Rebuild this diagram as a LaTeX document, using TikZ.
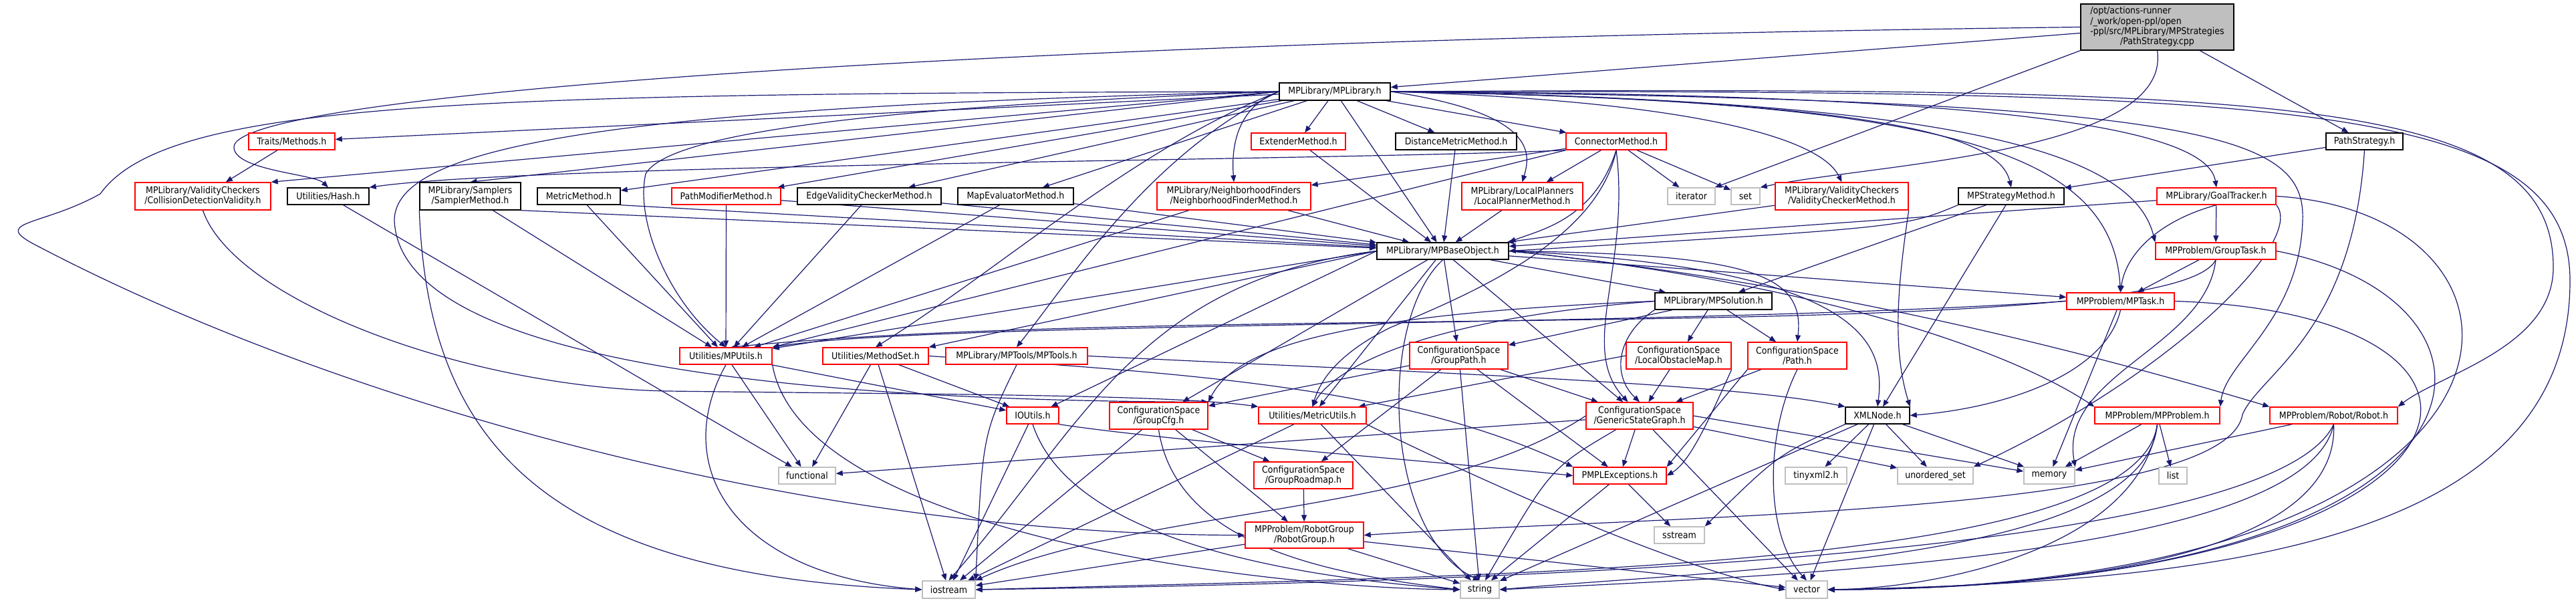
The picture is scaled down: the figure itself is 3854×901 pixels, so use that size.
\documentclass[tikz,border=0pt]{standalone}
\usepackage{fontspec}
\newfontfamily\dfont{DejaVu Sans Condensed}
\usetikzlibrary{arrows.meta}
\definecolor{edgecol}{HTML}{191970}
\definecolor{sysgray}{HTML}{BFBFBF}
\pgfdeclarelayer{edgelayer}
\pgfsetlayers{edgelayer,main}
\tikzset{
  nd/.style={draw, fill=white, line width=0.7pt, inner sep=0pt, align=center, text=black,
    font=\dfont\fontsize{7pt}{7.5pt}\selectfont},
  rednd/.style={nd, draw=red},
  blknd/.style={nd, draw=black},
  sysnd/.style={nd, draw=sysgray},
  rootnd/.style={nd, draw=black, fill=sysgray},
  edge/.style={draw=edgecol, line width=0.6pt, -{Triangle[length=5pt,width=4pt]}}
}
\newcommand\mknode[7]{\node[#1, minimum width=#5*0.5pt, minimum height=#6*0.5pt] (#2) at (#3,#4) {#7};}
\begin{document}
\begin{tikzpicture}[x=0.5pt,y=-0.5pt]
\useasboundingbox (0,0) rectangle (3854,901);
% ---------- nodes ----------
\mknode{rootnd}{root}{3227.5}{40.5}{229}{69}{\begin{tabular}{@{}l@{}}/opt/actions-runner\\/\_work/open-ppl/open\\-ppl/src/MPLibrary/MPStrategies\\\multicolumn{1}{@{}c@{}}{/PathStrategy.cpp}\end{tabular}}
\mknode{blknd}{mplib}{1997}{137}{166}{26}{MPLibrary/MPLibrary.h}
\mknode{rednd}{traits}{436.5}{211.5}{129}{25}{Traits/Methods.h}
\mknode{rednd}{extender}{1942.5}{211.5}{141}{25}{ExtenderMethod.h}
\mknode{blknd}{distmetric}{2178.5}{211.5}{181}{25}{DistanceMetricMethod.h}
\mknode{rednd}{connector}{2418}{211.5}{150}{25}{ConnectorMethod.h}
\mknode{blknd}{pathstrat}{3537.5}{211.5}{115}{25}{PathStrategy.h}
\mknode{rednd}{cdv}{303.5}{293.5}{203}{41}{MPLibrary/ValidityCheckers\\/CollisionDetectionValidity.h}
\mknode{blknd}{hash}{491}{293.5}{122}{25}{Utilities/Hash.h}
\mknode{blknd}{sampler}{703.5}{293.5}{151}{41}{MPLibrary/Samplers\\/SamplerMethod.h}
\mknode{blknd}{metric}{866}{293.5}{124}{25}{MetricMethod.h}
\mknode{rednd}{pathmod}{1086.5}{293.5}{163}{25}{PathModifierMethod.h}
\mknode{blknd}{edgevc}{1300.5}{293.5}{215}{25}{EdgeValidityCheckerMethod.h}
\mknode{blknd}{mapeval}{1519.5}{293.5}{173}{25}{MapEvaluatorMethod.h}
\mknode{rednd}{nf}{1846}{293.5}{230}{41}{MPLibrary/NeighborhoodFinders\\/NeighborhoodFinderMethod.h}
\mknode{rednd}{lp}{2277.5}{293.5}{181}{41}{MPLibrary/LocalPlanners\\/LocalPlannerMethod.h}
\mknode{sysnd}{iterator}{2530.5}{293.5}{71}{25}{iterator}
\mknode{sysnd}{set}{2611.5}{293.5}{43}{25}{set}
\mknode{rednd}{vc}{2755.5}{293.5}{199}{41}{MPLibrary/ValidityCheckers\\/ValidityCheckerMethod.h}
\mknode{blknd}{mpstrat}{3009}{293.5}{158}{25}{MPStrategyMethod.h}
\mknode{rednd}{goal}{3316}{293.5}{178}{25}{MPLibrary/GoalTracker.h}
\mknode{blknd}{base}{2158.5}{375.5}{197}{25}{MPLibrary/MPBaseObject.h}
\mknode{rednd}{grouptask}{3315}{375.5}{180}{25}{MPProblem/GroupTask.h}
\mknode{blknd}{solution}{2563.5}{450.5}{175}{25}{MPLibrary/MPSolution.h}
\mknode{rednd}{mptask}{3172.5}{450.5}{161}{25}{MPProblem/MPTask.h}
\mknode{rednd}{mputils}{1086}{532.5}{138}{25}{Utilities/MPUtils.h}
\mknode{rednd}{methodset}{1310}{532.5}{158}{25}{Utilities/MethodSet.h}
\mknode{rednd}{mptools}{1521}{532.5}{212}{25}{MPLibrary/MPTools/MPTools.h}
\mknode{rednd}{grouppath}{2182.5}{532}{147}{40}{ConfigurationSpace\\/GroupPath.h}
\mknode{rednd}{lom}{2511.5}{532}{157}{40}{ConfigurationSpace\\/LocalObstacleMap.h}
\mknode{rednd}{path}{2689}{532}{148}{40}{ConfigurationSpace\\/Path.h}
\mknode{rednd}{ioutils}{1545}{621.5}{78}{25}{IOUtils.h}
\mknode{rednd}{groupcfg}{1733.5}{622}{147}{40}{ConfigurationSpace\\/GroupCfg.h}
\mknode{rednd}{metricutils}{1963.5}{621.5}{161}{25}{Utilities/MetricUtils.h}
\mknode{rednd}{gsg}{2453}{622}{160}{40}{ConfigurationSpace\\/GenericStateGraph.h}
\mknode{blknd}{xml}{2809}{621.5}{96}{25}{XMLNode.h}
\mknode{rednd}{mpproblem}{3227.5}{621.5}{187}{25}{MPProblem/MPProblem.h}
\mknode{rednd}{robot}{3491.5}{621.5}{191}{25}{MPProblem/Robot/Robot.h}
\mknode{sysnd}{functional}{1207.5}{711.5}{85}{25}{functional}
\mknode{rednd}{groadmap}{1950}{711}{148}{40}{ConfigurationSpace\\/GroupRoadmap.h}
\mknode{rednd}{pmpl}{2423.5}{711.5}{139}{25}{PMPLExceptions.h}
\mknode{sysnd}{tinyxml}{2717}{711.5}{92}{25}{tinyxml2.h}
\mknode{sysnd}{uset}{2895.5}{711.5}{113}{25}{unordered\_set}
\mknode{sysnd}{memory}{3066}{711.5}{76}{25}{memory}
\mknode{sysnd}{list}{3251}{711.5}{42}{25}{list}
\mknode{rednd}{robotgroup}{1951.5}{800.5}{177}{39}{MPProblem/RobotGroup\\/RobotGroup.h}
\mknode{sysnd}{sstream}{2512.5}{800.5}{75}{25}{sstream}
\mknode{sysnd}{iostream}{1419.5}{882}{79}{26}{iostream}
\mknode{sysnd}{string}{2214}{882}{58}{26}{string}
\mknode{sysnd}{vector}{2703}{882}{62}{26}{vector}
% ---------- edges ----------
\begin{pgfonlayer}{edgelayer}
% root
\draw[edge] (root) -- (mplib);
\draw[edge] (root.west) .. controls (1500,60) and (350,140) .. (350,220) .. controls (350,255) and (470,260) .. (hash.north);
\draw[edge] (root.south west) -- (iterator);
\draw[edge] (root.south) .. controls (3250,230) and (2800,245) .. (set.north east);
\draw[edge] (root) -- (pathstrat);
% PathStrategy.h
\draw[edge] (pathstrat) -- (mpstrat);
\draw[edge] (pathstrat.south) .. controls (3520,500) and (3380,560) .. (3355,620) .. controls (3330,770) and (2500,770) .. (robotgroup.east);
% MPLibrary.h
\draw[edge] (mplib) -- (traits);
\draw[edge] (mplib.west) -- (cdv.north east);
\draw[edge] (mplib.west) -- (sampler.north);
\draw[edge] (mplib) -- (metric);
\draw[edge] (mplib) -- (pathmod);
\draw[edge] (mplib) -- (edgevc);
\draw[edge] (mplib) -- (mapeval);
\draw[edge] (mplib.west) .. controls (1850,160) and (1842,220) .. (nf.north);
\draw[edge] (mplib) -- (extender);
\draw[edge] (mplib) -- (distmetric);
\draw[edge] (mplib) -- (connector);
\draw[edge] (mplib) -- (base);
\draw[edge] (mplib.east) .. controls (2300,170) and (2290,230) .. (lp.north);
\draw[edge] (mplib.east) .. controls (2500,150) and (2720,200) .. (vc.north);
\draw[edge] (mplib.east) .. controls (2800,150) and (2990,200) .. (mpstrat.north);
\draw[edge] (mplib.east) .. controls (2900,140) and (3300,180) .. (goal.north);
\draw[edge] (mplib.east) .. controls (2900,150) and (3190,220) .. (grouptask.north west);
\draw[edge] (mplib.east) .. controls (2900,150) and (3160,220) .. (mptask.north);
\draw[edge] (mplib.east) .. controls (3300,150) and (3450,200) .. (3445,330) .. controls (3440,480) and (3330,540) .. (mpproblem.north east);
\draw[edge] (mplib.east) .. controls (3400,130) and (3820,140) .. (3820,400) .. controls (3820,520) and (3650,560) .. (robot.north east);
\draw[edge] (mplib.east) .. controls (3420,135) and (3845,150) .. (3845,420) .. controls (3845,820) and (3300,870) .. (vector.east);
\draw[edge] (mplib.west) .. controls (1300,160) and (1000,200) .. (966,260) .. controls (950,330) and (1000,450) .. (mputils.north);
\draw[edge] (mplib.west) .. controls (1700,220) and (1500,400) .. (methodset.north);
\draw[edge] (mplib.west) .. controls (1720,230) and (1600,420) .. (mptools.north);
\draw[edge] (mplib.west) .. controls (900,160) and (590,220) .. (590,330) .. controls (600,560) and (1300,600) .. (groupcfg.north east);
\draw[edge] (mplib.west) .. controls (700,140) and (250,150) .. (150,290) .. controls (60,340) and (-20,330) .. (60,370) .. controls (500,600) and (1200,800) .. (robotgroup.west);
% Traits
\draw[edge] (traits) -- (cdv);
% ConnectorMethod.h
\draw[edge] (connector.south west) .. controls (2000,240) and (800,245) .. (hash.north east);
\draw[edge] (connector) -- (nf);
\draw[edge] (connector) -- (lp);
\draw[edge] (connector) -- (iterator);
\draw[edge] (connector) -- (set);
\draw[edge] (connector.south) .. controls (2385,330) and (2300,345) .. (base.north east);
\draw[edge] (connector.south west) -- (mputils.north east);
\draw[edge] (connector.south) .. controls (2390,360) and (2200,440) .. (2080,490) .. controls (2000,530) and (1975,570) .. (metricutils.north);
\draw[edge] (connector.south) .. controls (2440,400) and (2360,520) .. (gsg.130);
% row of method headers
\draw[edge] (extender) -- (base);
\draw[edge] (distmetric) -- (base);
\draw[edge] (lp) -- (base);
\draw[edge] (vc) -- (base);
\draw[edge] (vc.south east) .. controls (2840,420) and (2830,520) .. (xml.north east);
\draw[edge] (nf) -- (base);
\draw[edge] (nf) -- (mputils);
\draw[edge] (sampler.south east) -- (base);
\draw[edge] (sampler) -- (mputils);
\draw[edge] (sampler.south west) .. controls (640,650) and (800,860) .. (iostream.west);
\draw[edge] (metric.south east) -- (base);
\draw[edge] (metric) -- (mputils);
\draw[edge] (pathmod) -- (base);
\draw[edge] (pathmod) -- (mputils);
\draw[edge] (edgevc) -- (base);
\draw[edge] (edgevc) -- (mputils);
\draw[edge] (mapeval) -- (base);
\draw[edge] (mapeval) -- (mputils);
\draw[edge] (hash) -- (functional);
\draw[edge] (cdv.south) .. controls (350,450) and (700,580) .. (1000,585) .. controls (1400,590) and (1750,590) .. (metricutils.north west);
\draw[edge] (mpstrat.south west) .. controls (2850,340) .. (base.east);
\draw[edge] (mpstrat) -- (solution);
\draw[edge] (mpstrat) -- (xml);
\draw[edge] (goal) -- (base);
\draw[edge] (goal) -- (grouptask);
\draw[edge] (goal.south) .. controls (3230,330) and (3180,380) .. (mptask.north);
\draw[edge] (goal.south east) .. controls (3450,360) and (3250,560) .. (uset.north east);
\draw[edge] (goal.east) .. controls (3850,320) and (3850,880) .. (vector.east);
% MPBaseObject.h
\draw[edge] (base) -- (solution);
\draw[edge] (base) -- (grouppath);
\draw[edge] (base.east) .. controls (2620,380) and (2700,410) .. (path.north);
\draw[edge] (base) -- (mptask);
\draw[edge] (base.west) -- (mputils);
\draw[edge] (base.west) -- (methodset.north east);
\draw[edge] (base) -- (groupcfg);
\draw[edge] (base) -- (metricutils);
\draw[edge] (base) -- (gsg);
\draw[edge] (base.east) .. controls (2800,400) and (2820,520) .. (xml.north);
\draw[edge] (base.east) .. controls (2700,420) and (3000,520) .. (mpproblem.north west);
\draw[edge] (base.east) .. controls (2700,420) and (3100,520) .. (robot.north west);
\draw[edge] (base.west) -- (ioutils);
\draw[edge] (base.west) .. controls (1700,420) and (1620,640) .. (iostream.north);
\draw[edge] (base.south) .. controls (2060,480) and (2070,800) .. (string.north);
% MPSolution.h
\draw[edge] (solution) -- (grouppath);
\draw[edge] (solution) -- (lom);
\draw[edge] (solution) -- (path);
\draw[edge] (solution.south west) .. controls (2420,500) and (2410,560) .. (gsg.north);
\draw[edge] (solution.west) .. controls (2000,470) and (1850,520) .. (groupcfg.north east);
\draw[edge] (solution.west) .. controls (2100,480) and (1990,560) .. (metricutils.north);
% GroupPath / LocalObstacleMap / Path
\draw[edge] (grouppath) -- (groupcfg);
\draw[edge] (grouppath) -- (groadmap);
\draw[edge] (grouppath) -- (gsg);
\draw[edge] (grouppath) -- (pmpl);
\draw[edge] (grouppath) -- (string);
\draw[edge] (lom) -- (gsg);
\draw[edge] (lom.west) -- (metricutils);
\draw[edge] (lom.south east) .. controls (2560,620) and (2530,690) .. (pmpl.east);
\draw[edge] (path) -- (gsg);
\draw[edge] (path.south west) -- (pmpl.north east);
\draw[edge] (path.south) .. controls (2640,650) and (2640,800) .. (vector.north);
% GroupCfg / MetricUtils / GroupRoadmap
\draw[edge] (groupcfg) -- (groadmap);
\draw[edge] (groupcfg) -- (robotgroup);
\draw[edge] (groupcfg) -- (iostream);
\draw[edge] (groupcfg.south) .. controls (1760,820) and (2000,860) .. (string.west);
\draw[edge] (metricutils) -- (iostream);
\draw[edge] (metricutils) -- (string);
\draw[edge] (metricutils.south east) .. controls (2300,760) and (2550,860) .. (vector.west);
\draw[edge] (groadmap) -- (robotgroup);
% GenericStateGraph.h
\draw[edge] (gsg) -- (pmpl);
\draw[edge] (gsg.west) .. controls (2150,770) and (1700,760) .. (iostream.north east);
\draw[edge] (gsg) .. controls (2320,700) .. (string);
\draw[edge] (gsg) -- (vector);
\draw[edge] (gsg) -- (uset);
\draw[edge] (gsg) -- (functional);
\draw[edge] (gsg.east) -- (memory);
% XMLNode.h
\draw[edge] (xml) -- (tinyxml);
\draw[edge] (xml) -- (uset);
\draw[edge] (xml) -- (memory);
\draw[edge] (xml.south west) .. controls (2660,680) .. (sstream.north east);
\draw[edge] (xml) -- (string);
\draw[edge] (xml) -- (vector);
% PMPLExceptions.h
\draw[edge] (pmpl) -- (sstream);
\draw[edge] (pmpl) -- (string);
% IOUtils.h
\draw[edge] (ioutils) -- (iostream);
\draw[edge] (ioutils.south east) .. controls (1750,660) and (2150,690) .. (pmpl.west);
\draw[edge] (ioutils.south) .. controls (1600,800) and (1900,860) .. (string.west);
% MPUtils.h
\draw[edge] (mputils) -- (ioutils);
\draw[edge] (mputils) -- (functional);
\draw[edge] (mputils.south) .. controls (1000,700) and (1100,860) .. (iostream.west);
\draw[edge] (mputils.south east) .. controls (1200,800) and (1900,880) .. (string.west);
% MethodSet.h
\draw[edge] (methodset) -- (functional);
\draw[edge] (methodset) -- (iostream);
\draw[edge] (methodset) -- (ioutils);
\draw[edge] (methodset.east) .. controls (1800,560) and (2100,580) .. (pmpl.north west);
% MPTools.h
\draw[edge] (mptools.south) .. controls (1470,650) .. (iostream.north east);
\draw[edge] (mptools.east) .. controls (2200,560) and (2600,575) .. (xml.north west);
% RobotGroup.h
\draw[edge] (robotgroup) -- (iostream);
\draw[edge] (robotgroup) -- (string);
\draw[edge] (robotgroup) -- (vector);
% MPProblem.h
\draw[edge] (mpproblem) -- (memory);
\draw[edge] (mpproblem) -- (list);
\draw[edge] (mpproblem.south) .. controls (3200,850) and (2300,860) .. (iostream.east);
\draw[edge] (mpproblem.south) .. controls (3210,840) and (2600,850) .. (string.east);
\draw[edge] (mpproblem.south) .. controls (3200,820) and (2900,880) .. (vector.east);
% Robot.h
\draw[edge] (robot) -- (memory);
\draw[edge] (robot.south) .. controls (3400,830) and (2300,870) .. (iostream.east);
\draw[edge] (robot.south) .. controls (3450,830) and (2700,860) .. (string.east);
\draw[edge] (robot.south) .. controls (3500,830) and (3100,880) .. (vector.east);
% MPTask.h
\draw[edge] (mptask.west) .. controls (2500,490) and (1400,480) .. (mputils.north east);
\draw[edge] (mptask.south) .. controls (3150,560) and (3000,610) .. (xml.east);
\draw[edge] (mptask) -- (memory);
\draw[edge] (mptask.east) .. controls (3850,470) and (3750,880) .. (vector.east);
% GroupTask.h
\draw[edge] (grouptask) -- (mptask);
\draw[edge] (grouptask.south) .. controls (3250,520) and (1800,450) .. (mputils.60);
\draw[edge] (grouptask.south) .. controls (3300,520) and (3080,560) .. (memory.north east);
\draw[edge] (grouptask.east) .. controls (3800,450) and (3780,880) .. (vector.east);
\end{pgfonlayer}
\end{tikzpicture}
\end{document}
